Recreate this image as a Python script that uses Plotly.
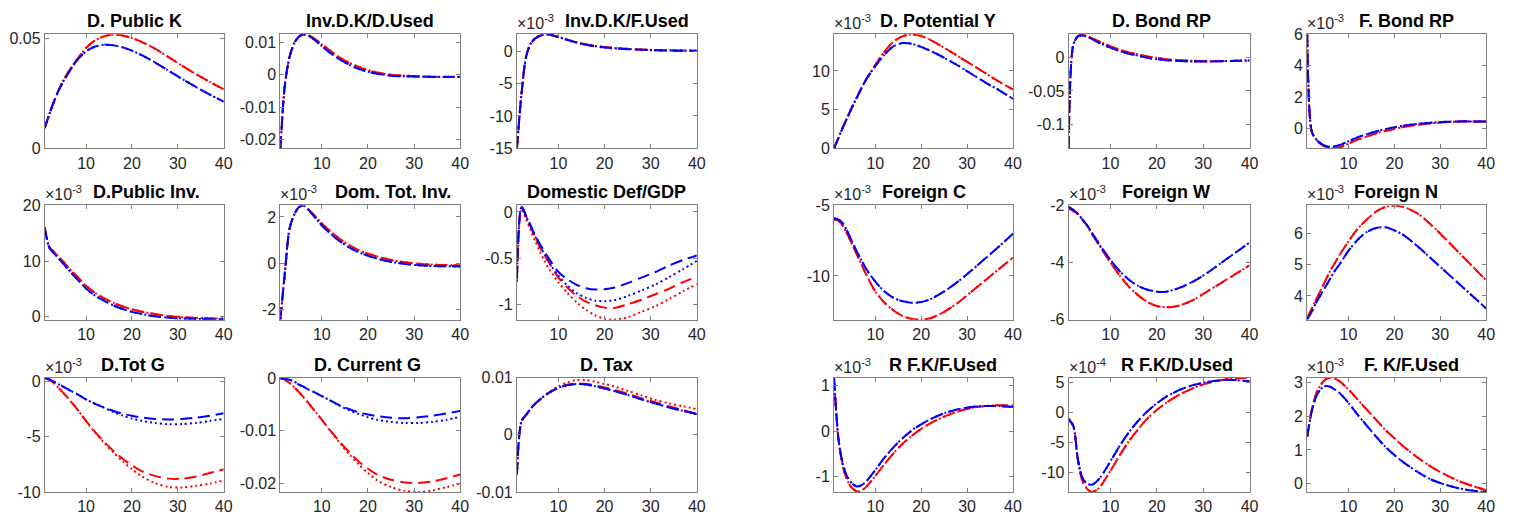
import plotly.graph_objects as go

W, H = 1519, 529

# quarters after the shock
T = [1, 2, 3, 4, 5, 6, 7, 8, 10, 12, 14, 16, 18, 20, 22, 25, 28, 31, 34, 37, 40]

# ---- left block -------------------------------------------------------
pubk_red = [.0092, .0155, .0212, .0262, .0305, .0342, .0374, .0402, .0455, .0490, .0509,
            .0516, .0512, .0500, .0484, .0452, .0414, .0374, .0336, .0301, .0268]
pubk_blue = [.0092, .0155, .0212, .0261, .0302, .0336, .0368, .0398, .0440, .0462, .0470,
             .0467, .0458, .0443, .0424, .0390, .0352, .0314, .0278, .0244, .0212]

invdkd_red = [-.0227, -.0030, .0055, .0097, .0117, .0124, .0122, .0115, .0094, .0072, .0052,
              .0036, .0024, .0014, .0007, .0000, -.0003, -.0005, -.0006, -.0006, -.0006]
invdkd_blue = [-.0227, -.0030, .0055, .0097, .0117, .0124, .0121, .0112, .0088, .0065, .0046,
               .0030, .0018, .0009, .0003, -.0003, -.0005, -.0006, -.0007, -.0007, -.0007]

invdkf_red = [-15, -6.5, -0.8, 1.2, 2.0, 2.4, 2.6, 2.6, 2.25, 1.8, 1.4,
              1.08, 0.83, 0.65, 0.52, 0.38, 0.28, 0.2, 0.15, 0.12, 0.1]
invdkf_blue = [-15, -6.5, -0.8, 1.2, 2.0, 2.4, 2.6, 2.58, 2.18, 1.72, 1.32,
               1.0, 0.76, 0.59, 0.46, 0.33, 0.23, 0.16, 0.11, 0.08, 0.06]

pubinv_red = [16.0, 12.6, 11.7, 10.8, 10.0, 9.0, 8.1, 7.3, 5.6, 4.3, 3.3,
              2.5, 1.85, 1.35, 0.95, 0.5, 0.15, -0.05, -0.18, -0.25, -0.3]
pubinv_blue = [16.0, 12.4, 11.4, 10.5, 9.6, 8.6, 7.7, 6.85, 5.1, 3.8, 2.85,
               2.05, 1.4, 0.9, 0.55, 0.1, -0.15, -0.3, -0.38, -0.42, -0.45]

totinv_red = [-2.45, -0.4, 1.5, 2.1, 2.42, 2.5, 2.35, 2.15, 1.72, 1.35, 1.03,
              0.77, 0.56, 0.4, 0.28, 0.13, 0.03, -0.03, -0.07, -0.09, -0.1]
totinv_blue = [-2.45, -0.4, 1.5, 2.1, 2.42, 2.5, 2.33, 2.1, 1.63, 1.25, 0.93,
               0.67, 0.47, 0.31, 0.19, 0.05, -0.04, -0.1, -0.13, -0.14, -0.15]

def_red_dash = [-0.72, 0.05, -0.05, -0.16, -0.28, -0.38, -0.47, -0.55, -0.71, -0.82, -0.91,
                -0.97, -1.01, -1.035, -1.04, -1.0, -0.95, -0.89, -0.83, -0.76, -0.70]
def_red_dot = [-0.76, 0.03, -0.08, -0.2, -0.32, -0.43, -0.53, -0.62, -0.76, -0.88, -0.98,
               -1.06, -1.12, -1.155, -1.165, -1.14, -1.08, -1.02, -0.94, -0.86, -0.78]
def_blue_dash = [-0.72, 0.06, -0.04, -0.15, -0.26, -0.35, -0.43, -0.51, -0.65, -0.73, -0.79,
                 -0.825, -0.84, -0.835, -0.82, -0.77, -0.71, -0.65, -0.58, -0.52, -0.47]
def_blue_dot = [-0.73, 0.05, -0.05, -0.16, -0.27, -0.37, -0.46, -0.55, -0.69, -0.8, -0.88,
                -0.93, -0.96, -0.965, -0.955, -0.91, -0.85, -0.785, -0.705, -0.62, -0.53]

totg_red_dash = [0.3, 0.1, -0.2, -0.6, -1.05, -1.5, -2.0, -2.5, -3.6, -4.6, -5.5,
                 -6.3, -7.0, -7.6, -8.1, -8.55, -8.8, -8.8, -8.6, -8.3, -7.95]
totg_red_dot = [0.3, 0.1, -0.2, -0.6, -1.05, -1.5, -2.0, -2.5, -3.6, -4.65, -5.6,
                -6.45, -7.25, -7.95, -8.55, -9.2, -9.55, -9.6, -9.45, -9.25, -8.96]
totg_blue_dash = [0.3, 0.15, -0.05, -0.27, -0.5, -0.72, -0.95, -1.15, -1.65, -2.05, -2.4,
                  -2.7, -2.95, -3.13, -3.28, -3.42, -3.47, -3.42, -3.3, -3.12, -2.9]
totg_blue_dot = [0.3, 0.15, -0.05, -0.27, -0.5, -0.72, -0.95, -1.15, -1.65, -2.05, -2.42,
                 -2.8, -3.12, -3.38, -3.58, -3.78, -3.9, -3.88, -3.78, -3.6, -3.4]

curg_red_dash = [0, -0.0003, -0.0009, -0.0017, -0.0026, -0.0036, -0.0046, -0.0057, -0.0079, -0.0101, -0.0122,
                 -0.0141, -0.0158, -0.0172, -0.0183, -0.0193, -0.0198, -0.0199, -0.0196, -0.019, -0.0183]
curg_red_dot = [0, -0.0003, -0.0009, -0.0017, -0.0026, -0.0036, -0.0046, -0.0057, -0.0079, -0.0102, -0.0124,
                -0.0145, -0.0164, -0.018, -0.0194, -0.0207, -0.0214, -0.0216, -0.0213, -0.0207, -0.0200]
curg_blue_dash = [0, -0.0001, -0.0003, -0.0006, -0.0012, -0.0016, -0.0021, -0.0025, -0.0034, -0.0043, -0.0052,
                  -0.0059, -0.0065, -0.0069, -0.0072, -0.0075, -0.0076, -0.0074, -0.0071, -0.0067, -0.0062]
curg_blue_dot = [0, -0.0001, -0.0003, -0.0006, -0.0012, -0.0016, -0.0021, -0.0025, -0.0034, -0.0043, -0.0053,
                 -0.0061, -0.0068, -0.0074, -0.0079, -0.0083, -0.0085, -0.0085, -0.0083, -0.0079, -0.0073]

tax_red_dash = [-0.0069, 0.0024, 0.0035, 0.0046, 0.0055, 0.0062, 0.0068, 0.0074, 0.0083, 0.0088, 0.0090,
                0.0089, 0.0087, 0.0083, 0.0079, 0.0072, 0.0064, 0.0057, 0.0050, 0.0043, 0.0037]
tax_red_dot = [-0.0069, 0.0024, 0.0035, 0.0046, 0.0055, 0.0062, 0.0069, 0.0075, 0.0085, 0.0092, 0.0096,
               0.0096, 0.0093, 0.0089, 0.0085, 0.0077, 0.0069, 0.0061, 0.0055, 0.0050, 0.0045]
tax_blue = [-0.0069, 0.0024, 0.0035, 0.0046, 0.0055, 0.0062, 0.0068, 0.0074, 0.0082, 0.0087, 0.0089,
            0.0088, 0.0085, 0.0081, 0.0077, 0.0070, 0.0062, 0.0055, 0.0048, 0.0042, 0.0036]

# ---- right block ------------------------------------------------------
poty_red = [0, 1.4, 2.8, 4.1, 5.4, 6.6, 7.8, 8.9, 10.8, 12.5, 13.8,
            14.5, 14.7, 14.5, 14.0, 13.0, 11.9, 10.8, 9.7, 8.6, 7.6]
poty_blue = [0, 1.4, 2.8, 4.1, 5.4, 6.6, 7.8, 8.9, 10.6, 12.1, 13.2,
             13.6, 13.5, 13.1, 12.6, 11.7, 10.7, 9.6, 8.5, 7.5, 6.4]

dbond_red = [-0.135, 0.018, 0.031, 0.033, 0.031, 0.028, 0.025, 0.022, 0.016, 0.011, 0.007,
             0.004, 0.001, -0.001, -0.003, -0.0045, -0.0055, -0.006, -0.006, -0.0055, -0.005]
dbond_blue = [-0.135, 0.018, 0.031, 0.032, 0.030, 0.027, 0.023, 0.020, 0.014, 0.009, 0.005,
              0.002, -0.001, -0.003, -0.0045, -0.0058, -0.0065, -0.0065, -0.006, -0.0055, -0.005]

fbond_red = [6.0, -0.2, -0.7, -1.0, -1.15, -1.22, -1.25, -1.2, -0.95, -0.7, -0.5,
             -0.3, -0.15, -0.02, 0.1, 0.24, 0.34, 0.41, 0.45, 0.46, 0.45]
fbond_blue = [5.95, -0.2, -0.7, -0.95, -1.1, -1.15, -1.12, -1.05, -0.8, -0.55, -0.35,
              -0.18, -0.03, 0.09, 0.19, 0.3, 0.38, 0.43, 0.46, 0.46, 0.45]

forc_red = [-6.0, -6.1, -6.5, -7.1, -7.8, -8.5, -9.2, -9.9, -11.1, -11.9, -12.45,
            -12.85, -13.05, -13.1, -13.0, -12.55, -11.9, -11.1, -10.3, -9.5, -8.7]
forc_blue = [-5.9, -6.0, -6.3, -6.9, -7.6, -8.3, -8.9, -9.5, -10.4, -11.1, -11.55,
             -11.8, -11.9, -11.85, -11.65, -11.1, -10.4, -9.6, -8.75, -7.9, -7.0]

forw_red = [-2.1, -2.2, -2.3, -2.5, -2.7, -3.0, -3.25, -3.5, -4.0, -4.45, -4.85,
            -5.15, -5.38, -5.52, -5.57, -5.5, -5.3, -5.0, -4.7, -4.4, -4.1]
forw_blue = [-2.05, -2.15, -2.3, -2.5, -2.7, -2.95, -3.2, -3.45, -3.9, -4.3, -4.6,
             -4.82, -4.95, -5.02, -5.02, -4.88, -4.65, -4.35, -4.0, -3.65, -3.3]

forn_red = [3.3, 3.6, 3.9, 4.2, 4.5, 4.8, 5.05, 5.3, 5.75, 6.15, 6.45,
            6.7, 6.85, 6.9, 6.85, 6.65, 6.28, 5.85, 5.4, 4.95, 4.5]
forn_blue = [3.25, 3.5, 3.8, 4.05, 4.3, 4.55, 4.8, 5.0, 5.45, 5.8, 6.05,
             6.18, 6.2, 6.1, 5.95, 5.6, 5.2, 4.8, 4.4, 4.0, 3.6]

rfkf_red = [1.17, -0.2, -0.8, -1.1, -1.25, -1.32, -1.3, -1.22, -0.98, -0.72, -0.48,
            -0.27, -0.1, 0.05, 0.17, 0.32, 0.43, 0.51, 0.55, 0.57, 0.56]
rfkf_blue = [1.15, -0.2, -0.75, -1.02, -1.15, -1.21, -1.18, -1.1, -0.85, -0.58, -0.35,
             -0.15, 0.02, 0.15, 0.26, 0.39, 0.48, 0.53, 0.55, 0.55, 0.53]

rfkd_red = [-1.2, -2.3, -8.0, -11.5, -12.8, -13.3, -13.0, -12.2, -9.8, -7.2, -4.8,
            -2.8, -1.0, 0.4, 1.6, 3.0, 4.1, 4.9, 5.4, 5.7, 5.8]
rfkd_blue = [-1.1, -2.2, -7.8, -11.0, -11.9, -12.1, -11.6, -10.7, -8.2, -5.6, -3.3,
             -1.4, 0.2, 1.5, 2.6, 3.8, 4.6, 5.1, 5.4, 5.4, 5.2]

fkf_red = [1.4, 2.2, 2.7, 2.95, 3.1, 3.15, 3.12, 3.05, 2.8, 2.5, 2.2,
           1.9, 1.6, 1.35, 1.1, 0.78, 0.5, 0.27, 0.08, -0.07, -0.2]
fkf_blue = [1.4, 2.15, 2.6, 2.82, 2.9, 2.88, 2.8, 2.7, 2.4, 2.05, 1.72,
            1.4, 1.1, 0.85, 0.63, 0.35, 0.12, -0.03, -0.14, -0.21, -0.25]

X_TICKS = [10, 20, 30, 40]

# panel: title, exponent, (red --, red :, blue --, blue :), y range, y ticks, y tick text
panels = [
    ("D. Public K", None, (pubk_red, pubk_red, pubk_blue, pubk_blue),
     [0, 0.0518], [0, 0.05], ["0", "0.05"]),
    ("Inv.D.K/D.Used", None, (invdkd_red, invdkd_red, invdkd_blue, invdkd_blue),
     [-0.0227, 0.0125], [-0.02, -0.01, 0, 0.01], ["-0.02", "-0.01", "0", "0.01"]),
    ("Inv.D.K/F.Used", -3, (invdkf_red, invdkf_red, invdkf_blue, invdkf_blue),
     [-15, 2.65], [-15, -10, -5, 0], ["-15", "-10", "-5", "0"]),
    ("D.Public Inv.", -3, (pubinv_red, pubinv_red, pubinv_blue, pubinv_blue),
     [-0.5, 20], [0, 10, 20], ["0", "10", "20"]),
    ("Dom. Tot. Inv.", -3, (totinv_red, totinv_red, totinv_blue, totinv_blue),
     [-2.46, 2.5], [-2, 0, 2], ["-2", "0", "2"]),
    ("Domestic Def/GDP", None, (def_red_dash, def_red_dot, def_blue_dash, def_blue_dot),
     [-1.165, 0.07], [-1, -0.5, 0], ["-1", "-0.5", "0"]),
    ("D.Tot G", -3, (totg_red_dash, totg_red_dot, totg_blue_dash, totg_blue_dot),
     [-10, 0.3], [-10, -5, 0], ["-10", "-5", "0"]),
    ("D. Current G", None, (curg_red_dash, curg_red_dot, curg_blue_dash, curg_blue_dot),
     [-0.0216, 0.0001], [-0.02, -0.01, 0], ["-0.02", "-0.01", "0"]),
    ("D. Tax", None, (tax_red_dash, tax_red_dot, tax_blue, tax_blue),
     [-0.01, 0.01], [-0.01, 0, 0.01], ["-0.01", "0", "0.01"]),
    ("D. Potential Y", -3, (poty_red, poty_red, poty_blue, poty_blue),
     [0, 14.75], [0, 5, 10], ["0", "5", "10"]),
    ("D. Bond RP", None, (dbond_red, dbond_red, dbond_blue, dbond_blue),
     [-0.135, 0.034], [-0.1, -0.05, 0], ["-0.1", "-0.05", "0"]),
    ("F. Bond RP", -3, (fbond_red, fbond_red, fbond_blue, fbond_blue),
     [-1.25, 6], [0, 2, 4, 6], ["0", "2", "4", "6"]),
    ("Foreign C", -3, (forc_red, forc_red, forc_blue, forc_blue),
     [-13.1, -5], [-10, -5], ["-10", "-5"]),
    ("Foreign W", -3, (forw_red, forw_red, forw_blue, forw_blue),
     [-6, -2], [-6, -4, -2], ["-6", "-4", "-2"]),
    ("Foreign N", -3, (forn_red, forn_red, forn_blue, forn_blue),
     [3.24, 6.9], [4, 5, 6], ["4", "5", "6"]),
    ("R F.K/F.Used", -3, (rfkf_red, rfkf_red, rfkf_blue, rfkf_blue),
     [-1.33, 1.17], [-1, 0, 1], ["-1", "0", "1"]),
    ("R F.K/D.Used", -4, (rfkd_red, rfkd_red, rfkd_blue, rfkd_blue),
     [-13.3, 5.8], [-10, -5, 0, 5], ["-10", "-5", "0", "5"]),
    ("F. K/F.Used", -3, (fkf_red, fkf_red, fkf_blue, fkf_blue),
     [-0.25, 3.15], [0, 1, 2, 3], ["0", "1", "2", "3"]),
]

# axes boxes in pixels: columns (left, right) and rows (top, bottom)
COLS = [(45, 225), (282, 463), (520, 701), (839, 1019), (1075, 1257), (1315, 1495)]
ROWS = [(27, 145), (204, 322), (382, 500)]
# horizontal centre of each title (pixels)
TITLE_X = [135, 372, 631, 147, 395, 610, 134, 370, 610,
           944, 1168, 1415, 930, 1173, 1404, 949, 1184, 1420]

STYLES = [("#ff0000", "12px,6px"), ("#ff0000", "2px,3px"),
          ("#0000ff", "12px,6px"), ("#0000ff", "2px,3px")]

FONT = "Liberation Sans, Arial, Helvetica, sans-serif"
AXIS_COLOR = "#808080"
TEXT_COLOR = "#262626"

fig = go.Figure()
annotations = []
layout = {}

for i, (title, expo, series, yr, yt, ytt) in enumerate(panels):
    block, local = divmod(i, 9)
    r, c = divmod(local, 3)
    col = COLS[block * 3 + c]
    row = ROWS[r]
    n = "" if i == 0 else str(i + 1)
    xref, yref = "x" + n, "y" + n

    for ys, (color, dash) in zip(series, STYLES):
        fig.add_trace(go.Scatter(
            x=T, y=ys, xaxis=xref, yaxis=yref, mode="lines",
            line=dict(color=color, width=2, dash=dash, shape="spline", smoothing=0.8),
            showlegend=False, hoverinfo="skip"))

    axis_common = dict(showline=True, linecolor=AXIS_COLOR, linewidth=1, mirror="ticks",
                       ticks="inside", ticklen=4, tickcolor=AXIS_COLOR, showgrid=False,
                       zeroline=False, tickfont=dict(family=FONT, size=16, color=TEXT_COLOR))
    layout["xaxis" + n] = dict(
        domain=[col[0] / W, col[1] / W], anchor=yref, range=[1, 40],
        tickmode="array", tickvals=X_TICKS, ticktext=[str(v) for v in X_TICKS],
        **axis_common)
    layout["yaxis" + n] = dict(
        domain=[1 - row[1] / H, 1 - row[0] / H], anchor=xref, range=yr,
        tickmode="array", tickvals=yt, ticktext=ytt, **axis_common)

    annotations.append(dict(
        text="<b>" + title + "</b>", xref="paper", yref="paper",
        x=TITLE_X[i] / W, y=1 - row[0] / H, xanchor="center", yanchor="bottom",
        yshift=1, showarrow=False, font=dict(family=FONT, size=18, color="#000000")))
    if expo is not None:
        annotations.append(dict(
            text="\u00d710<sup>%d</sup>" % expo, xref="paper", yref="paper",
            x=(col[0] - 2) / W, y=1 - row[0] / H, xanchor="left", yanchor="bottom",
            yshift=0, showarrow=False, font=dict(family=FONT, size=16, color=TEXT_COLOR)))

fig.update_layout(
    width=W, height=H, margin=dict(l=0, r=0, t=0, b=0),
    paper_bgcolor="white", plot_bgcolor="white",
    annotations=annotations, **layout)

fig.write_html("out.html")
